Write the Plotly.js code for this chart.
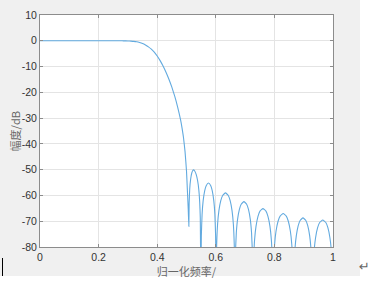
<!DOCTYPE html>
<html>
<head>
<meta charset="utf-8">
<script src="https://cdn.plot.ly/plotly-3.0.1.min.js"></script>
<style>
html,body{margin:0;padding:0;background:#ffffff;width:380px;height:293px;overflow:hidden;}
#bg{position:absolute;left:0;top:0;width:360px;height:276px;background:#f0f0f0;}
#chart{position:absolute;left:0;top:0;width:380px;height:293px;}
#cursor{position:absolute;left:2px;top:258px;width:1px;height:18px;background:#000;}
#ret{position:absolute;left:359px;top:259px;font-family:"DejaVu Sans",sans-serif;font-size:13px;color:#666;}
</style>
</head>
<body>
<div id="bg"></div>
<div id="chart"></div>
<div id="cursor"></div>
<span id="ret">↵</span>
<script>
// Normalized frequency
var freq = [
  0, 0.05, 0.10, 0.15, 0.20, 0.25, 0.28, 0.29, 0.30, 0.31, 0.32, 0.33, 0.34, 0.35, 0.36, 0.37, 0.38, 0.39, 0.40, 0.41, 0.42, 0.43, 0.44, 0.45, 0.46, 0.47, 0.48, 0.485, 0.49, 0.495, 0.50, 0.503, 0.506, 0.508,
  0.509, 0.511, 0.514, 0.518, 0.521, 0.524, 0.528, 0.533, 0.538, 0.542, 0.545, 0.547, 0.549,
  0.5506, 0.5532, 0.5568, 0.562, 0.5672, 0.575, 0.5828, 0.588, 0.5932, 0.5968, 0.5994, 0.601,
  0.6029, 0.6061, 0.6106, 0.617, 0.6234, 0.633, 0.6426, 0.649, 0.6554, 0.6599, 0.6631, 0.665,
  0.6669, 0.670, 0.6743, 0.6805, 0.6867, 0.696, 0.7053, 0.7115, 0.7177, 0.722, 0.7251, 0.727,
  0.729, 0.7324, 0.7372, 0.744, 0.7508, 0.761, 0.7712, 0.778, 0.7848, 0.7896, 0.793, 0.795,
  0.7971, 0.8006, 0.8055, 0.8125, 0.8195, 0.830, 0.8405, 0.8475, 0.8545, 0.8594, 0.8629, 0.865,
  0.867, 0.8702, 0.8748, 0.8813, 0.8878, 0.8975, 0.9073, 0.9138, 0.9203, 0.9248, 0.9281, 0.930,
  0.9321, 0.9356, 0.9405, 0.9475, 0.9545, 0.965, 0.9755, 0.9825, 0.9895, 0.9944, 0.9979, 1.0
];
// Magnitude in dB
var magDb = [
  0, 0, 0, 0, 0, 0, -0.01, -0.03, -0.06, -0.12, -0.22, -0.4, -0.7, -1.1, -1.65, -2.35, -3.25, -4.4, -5.9, -7.7, -9.8, -12.2, -14.9, -18, -21.6, -25.8, -30.8, -34.0, -37.8, -43, -50.5, -58, -65.5, -72,
  -63, -57.5, -53.8, -51.3, -50.4, -50.1, -50.5, -51.8, -54.3, -57.8, -62.5, -68.5, -95,
  -75.7, -67.3, -62.1, -58.2, -56.2, -55.2, -56.2, -58.2, -62.1, -67.3, -75.7, -95,
  -79.5, -71.1, -65.9, -62.0, -60.0, -59.0, -60.0, -62.0, -65.9, -71.1, -79.5, -95,
  -82.9, -74.5, -69.3, -65.4, -63.4, -62.4, -63.4, -65.4, -69.3, -74.5, -82.9, -95,
  -85.6, -77.2, -72.0, -68.1, -66.1, -65.1, -66.1, -68.1, -72.0, -77.2, -85.6, -95,
  -87.5, -79.1, -73.9, -70.0, -68.0, -67.0, -68.0, -70.0, -73.9, -79.1, -87.5, -95,
  -89.2, -80.8, -75.6, -71.7, -69.7, -68.7, -69.7, -71.7, -75.6, -80.8, -89.2, -95,
  -90.0, -81.6, -76.4, -72.5, -70.5, -69.5, -70.5, -72.5, -76.4, -81.6, -90.0, -95
];
var xTickVals = [0, 0.2, 0.4, 0.6, 0.8, 1];
var xTickText = ["0", "0.2", "0.4", "0.6", "0.8", "1"];
var yTickVals = [10, 0, -10, -20, -30, -40, -50, -60, -70, -80];
var yTickText = ["10", "0", "-10", "-20", "-30", "-40", "-50", "-60", "-70", "-80"];
var xLabel = "归一化频率/";
var yLabel = "幅度/dB";

var trace = {
  x: freq, y: magDb, type: "scatter", mode: "lines",
  line: {color: "#62aadf", width: 1.1, shape: "spline", smoothing: 0.4},
  hoverinfo: "skip"
};
var axisCommon = {
  showline: true, linecolor: "#8c8c8c", linewidth: 1, mirror: "ticks",
  ticks: "inside", ticklen: 3, tickcolor: "#8c8c8c", tickwidth: 1,
  showgrid: true, gridcolor: "#e4e4e4", gridwidth: 1, zeroline: false,
  tickfont: {family: "Liberation Sans, Arial, sans-serif", size: 10.5, color: "#333333"}
};
var titleFont = {family: "Noto Sans CJK SC, sans-serif", size: 11, color: "#666666"};
var layout = {
  width: 380, height: 293,
  margin: {l: 40, r: 47, t: 15, b: 46},
  paper_bgcolor: "rgba(0,0,0,0)", plot_bgcolor: "#ffffff",
  showlegend: false,
  xaxis: Object.assign({}, axisCommon, {
    range: [0, 1], tickmode: "array", tickvals: xTickVals, ticktext: xTickText,
    title: {text: xLabel, standoff: 2, font: titleFont}
  }),
  yaxis: Object.assign({}, axisCommon, {
    range: [-80, 10], tickmode: "array", tickvals: yTickVals, ticktext: yTickText
  }),
  annotations: [{
    text: yLabel, xref: "paper", yref: "paper", x: -0.084, y: 0.5,
    xanchor: "center", yanchor: "middle", textangle: -90, showarrow: false,
    font: titleFont
  }]
};
Plotly.newPlot("chart", [trace], layout, {staticPlot: true, displayModeBar: false});
</script>
</body>
</html>
